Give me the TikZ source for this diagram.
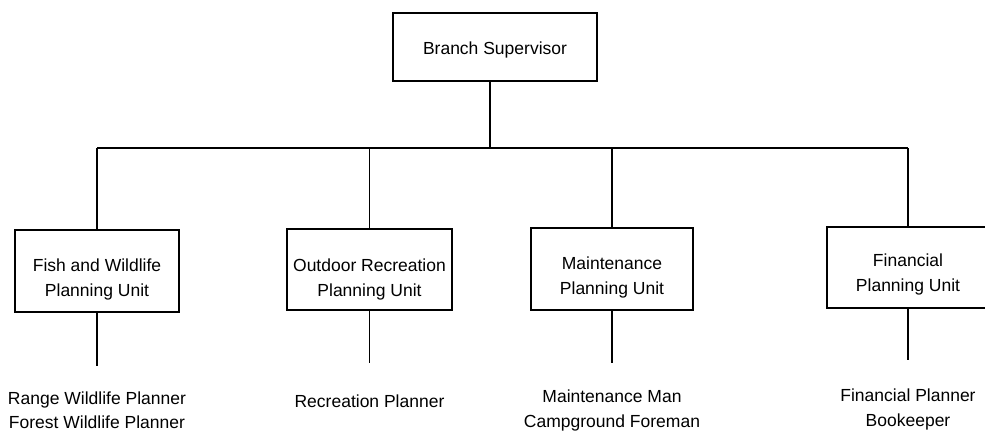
\documentclass[tikz,border=0pt]{standalone}
\usepackage{fontspec}
\setmainfont{Liberation Sans}
\begin{document}
\begin{tikzpicture}[x=1pt,y=-1pt,
  line width=1.3pt,
  every node/.style={font=\fontsize{17.5}{25}\selectfont, inner sep=0pt},
  unitbox/.style={draw},
  staff/.style={align=center}]
\useasboundingbox (0,0) rectangle (985,432);

% head of the branch
\node[unitbox, minimum width=204pt, minimum height=68pt] (top) at (495,47) {};
\node[staff] (topt) at (495,50) {Branch Supervisor};

% planning units
\node[unitbox, minimum width=164pt, minimum height=82pt] (fish) at (97,271) {};
\node[unitbox, minimum width=165pt, minimum height=81pt] (rec)  at (369.5,269.5) {};
\node[unitbox, minimum width=162pt, minimum height=82pt] (maint) at (612,269) {};
\node[unitbox, minimum width=162pt, minimum height=81pt] (fin)  at (908,267.5) {};

\node[staff] (fisht)  at (97,279) {Fish and Wildlife\\Planning Unit};
\node[staff] (rect)   at (369.5,279) {Outdoor Recreation\\Planning Unit};
\node[staff] (maintt) at (612,277) {Maintenance\\Planning Unit};
\node[staff] (fint)   at (908,274.5) {Financial\\Planning Unit};

% staff of each unit
\node[staff, font=\fontsize{17.5}{24}\selectfont] (fishs) at (97,410) {Range Wildlife Planner\\Forest Wildlife Planner};
\node[staff] (recs)   at (369.5,401) {Recreation Planner};
\node[staff] (maints) at (612,410) {Maintenance Man\\Campground Foreman};
\node[staff] (fins)   at (908,409.5) {Financial Planner\\Bookeeper};

% connector ends
\coordinate (j0) at (490,148);
\coordinate (bfish) at (97,366);
\coordinate (brec) at (369.5,363);
\coordinate (bmaint) at (612,363);
\coordinate (bfin) at (908,360);

% tree lines
\draw (top.south -| j0) -- (j0);
\draw (fish.north |- j0) -- (fin.north |- j0);
\draw (fish.north |- j0) -- (fish.north);
\draw (rec.north |- j0) -- (rec.north);
\draw (maint.north |- j0) -- (maint.north);
\draw (fin.north |- j0) -- (fin.north);

\draw (fish.south) -- (bfish);
\draw (rec.south) -- (brec);
\draw (maint.south) -- (bmaint);
\draw (fin.south) -- (bfin);
\end{tikzpicture}
\end{document}
